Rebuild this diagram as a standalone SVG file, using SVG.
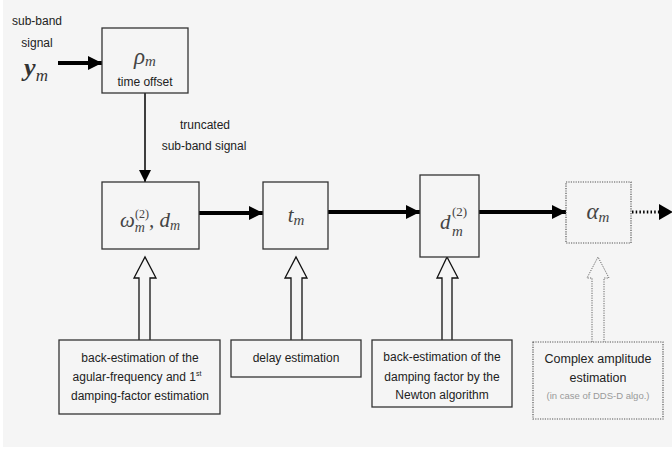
<svg xmlns="http://www.w3.org/2000/svg" width="672" height="450" viewBox="0 0 672 450">
<defs>
<style>
.t{font-family:"Liberation Sans",Arial,sans-serif;font-size:12px;fill:#222;text-anchor:middle}
.m{font-family:"Liberation Serif","Times New Roman",serif;font-style:italic;fill:#444;text-anchor:middle}
.box{fill:#f5f5f5;stroke:#333;stroke-width:1.3}
.dbox{fill:#f5f5f5;stroke:#555;stroke-width:1.2;stroke-dasharray:1.2 1.2}
.thick{stroke:#000;stroke-width:4;fill:none}
.hollow{fill:#f5f5f5;stroke:#111;stroke-width:1.3}
.dhollow{fill:#f5f5f5;stroke:#666;stroke-width:1;stroke-dasharray:1.2 1.2}
</style>
<marker id="ah" viewBox="0 0 10 10" refX="10" refY="5" markerWidth="3.6" markerHeight="4.2" markerUnits="strokeWidth" orient="auto">
<path d="M0,0 L10,5 L0,10 z" fill="#000"/>
</marker>
<marker id="ahs" viewBox="0 0 10 10" refX="10" refY="5" markerWidth="8" markerHeight="9" markerUnits="strokeWidth" orient="auto">
<path d="M0,0 L10,5 L0,10 z" fill="#000"/>
</marker>
</defs>
<rect x="0" y="0" width="672" height="450" fill="#ffffff"/>
<rect x="3" y="0" width="669" height="447" fill="#f5f5f5"/>

<g id="input-label">
<text class="t" x="37" y="25">sub-band</text>
<text class="t" x="37" y="47">signal</text>
<text x="36" y="76" style="font-family:'Liberation Serif',serif;font-style:italic;font-weight:bold;font-size:26px;fill:#333;text-anchor:middle">y<tspan style="font-size:17px;font-weight:normal" dy="5">m</tspan></text>
</g>

<g id="connectors">
<line class="thick" x1="58" y1="63" x2="102" y2="63" marker-end="url(#ah)"/>
<line x1="145" y1="93" x2="145" y2="182" stroke="#000" stroke-width="1.5" marker-end="url(#ahs)"/>
<line class="thick" x1="199" y1="213" x2="263" y2="213" marker-end="url(#ah)"/>
<line class="thick" x1="328" y1="212" x2="420" y2="212" marker-end="url(#ah)"/>
<line class="thick" x1="479" y1="212" x2="566" y2="212" marker-end="url(#ah)"/>
<line x1="632" y1="212" x2="660" y2="212" stroke="#000" stroke-width="3" stroke-dasharray="1.5 2.2"/>
<path d="M659,204 L673,212 L659,220 z" fill="#000"/>
<path class="hollow" d="M139,340 L139,278 L134,278 L145,257 L156,278 L150,278 L150,340"/>
<path class="hollow" d="M291,340 L291,278 L285,278 L296,257 L307,278 L302,278 L302,340"/>
<path class="hollow" d="M442,340 L442,278 L437,278 L447,257 L458,278 L452,278 L452,340"/>
<path class="dhollow" d="M592,342 L592,278 L587,278 L598,257 L609,278 L604,278 L604,342"/>
<text class="t" x="205" y="129">truncated</text>
<text class="t" x="204" y="150">sub-band signal</text>
</g>

<g id="rho">
<rect class="box" x="102" y="28" width="86" height="65"/>
<text class="m" x="145" y="64" style="font-size:23px">ρ<tspan style="font-size:15px" dy="2">m</tspan></text>
<text class="t" x="145" y="86">time offset</text>
</g>

<g id="omega">
<rect class="box" x="102" y="182" width="97" height="67"/>
<text class="m" x="150" y="227" style="font-size:21px">ω<tspan style="font-size:14px" dy="5">m</tspan><tspan style="font-size:12px;font-style:normal" dx="-10" dy="-14">(2)</tspan><tspan dy="9">, d</tspan><tspan style="font-size:14px" dy="3">m</tspan></text>
</g>

<g id="tm">
<rect class="box" x="263" y="182" width="65" height="67"/>
<text class="m" x="296" y="222" style="font-size:21px">t<tspan style="font-size:15px" dy="3">m</tspan></text>
</g>

<g id="d2">
<rect class="box" x="420" y="175" width="59" height="82"/>
<text x="440" y="229" style="font-family:'Liberation Serif',serif;font-style:italic;font-size:21px;fill:#444">d</text>
<text x="452" y="236" style="font-family:'Liberation Serif',serif;font-style:italic;font-size:15px;fill:#444">m</text>
<text x="452" y="216" style="font-family:'Liberation Serif',serif;font-size:13px;fill:#444">(2)</text>
</g>

<g id="alpha">
<rect class="dbox" x="566" y="182" width="65" height="61"/>
<text class="m" x="598" y="219" style="font-size:23px">α<tspan style="font-size:15px" dy="3">m</tspan></text>
</g>

<g id="box-back-freq">
<rect class="box" x="59" y="340" width="161" height="74"/>
<text class="t" x="140" y="362">back-estimation of the</text>
<text class="t" x="137" y="381">agular-frequency and 1<tspan style="font-size:7px" dy="-5">st</tspan></text>
<text class="t" x="140" y="400">damping-factor estimation</text>
</g>

<g id="box-delay">
<rect class="box" x="231" y="340" width="130" height="37"/>
<text class="t" x="296" y="362">delay estimation</text>
</g>

<g id="box-newton">
<rect class="box" x="372" y="340" width="140" height="67"/>
<text class="t" x="442" y="361">back-estimation of the</text>
<text class="t" x="442" y="381">damping factor by the</text>
<text class="t" x="442" y="399">Newton algorithm</text>
</g>

<g id="box-amplitude">
<rect class="dbox" x="533" y="342" width="130" height="77"/>
<text class="t" x="598" y="363" style="font-size:12.5px">Complex amplitude</text>
<text class="t" x="598" y="382" style="font-size:12.5px">estimation</text>
<text class="t" x="598" y="399" style="font-size:9.5px;fill:#999">(in case of DDS-D algo.)</text>
</g>
</svg>
